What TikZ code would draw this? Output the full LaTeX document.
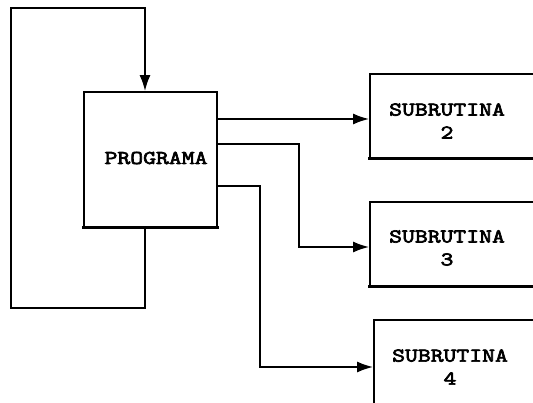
\documentclass[tikz,border=0pt]{standalone}
\usepackage{fontspec}
\setmonofont{Latin Modern Mono}[FakeStretch=1.28,BoldFont={Latin Modern Mono},BoldFeatures={FakeBold=3.5}]
\usetikzlibrary{arrows.meta,calc}
\begin{document}
\begin{tikzpicture}[x=1pt,y=-1pt,
  line width=1.8pt,
  box/.style={draw,rectangle,line width=1.8pt,inner sep=0pt},
  baseedge/.style={line width=3pt,line cap=rect},
  lbl/.style={font=\fontsize{19.5}{23}\selectfont\ttfamily\bfseries,align=center,inner sep=0pt},
  arr/.style={-{Latex[length=16pt,width=11pt]}}]
  \clip (0,0) rectangle (533,403);
  \fill[white] (0,0) rectangle (533,403);

  % main program block
  \node[box,minimum width=133pt,minimum height=135pt] (prog) at (150.5,159.5) {};
  \node[lbl] (progt) at (156,158) {PROGRAMA};
  \draw[baseedge] (prog.south west) -- (prog.south east);

  % subroutine blocks (running off the right edge)
  \node[box,minimum width=200pt,minimum height=84pt] (s2) at (470,116) {};
  \node[lbl] (s2t) at (447,121) {SUBRUTINA\\2};
  \draw[baseedge] (s2.south west) -- (s2.south east);

  \node[box,minimum width=200pt,minimum height=84pt] (s3) at (470,244) {};
  \node[lbl] (s3t) at (447,248) {SUBRUTINA\\3};
  \draw[baseedge] (s3.south west) -- (s3.south east);

  \node[box,minimum width=200pt,minimum height=120pt] (s4) at (474,380) {};
  \node[lbl] (s4t) at (450,367) {SUBRUTINA\\4};

  % return loop
  \coordinate (lb) at (11,308);
  \coordinate (lt) at (11,8);
  \draw[arr] ($(prog.south)+(-5.5,0)$) |- (lb) -- (lt) -| ($(prog.north)+(-5.5,0)$);

  % calls to the subroutines
  \draw[arr] (prog.east |- 0,119) -- (s2.west |- 0,119);
  \draw[arr] (prog.east |- 0,144) -| (299,200) |- (s3.west |- 0,247);
  \draw[arr] (prog.east |- 0,186) -| (260,300) |- (s4.west |- 0,367);
\end{tikzpicture}
\end{document}
